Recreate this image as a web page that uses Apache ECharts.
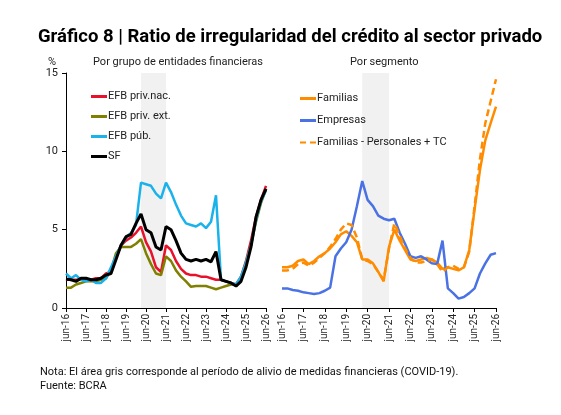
<!DOCTYPE html>
<html><head><meta charset="utf-8">
<script src="https://cdn.jsdelivr.net/npm/echarts@6/dist/echarts.min.js"></script>
<style>body{margin:0;background:#fff}#c{width:561px;height:415px}</style>
</head><body><div id="c"></div>
<script>
const months=['jun','sep','dic','mar'];
const categories=[];
for(let i=0;i<=40;i++){const m=months[i%4];const y=16+Math.floor((i+2)/4);categories.push(m+'-'+y);}
const efbPrivNac=[1.8,1.8,1.8,1.8,1.8,1.8,1.9,1.9,2.2,2.3,3.2,4.0,4.3,4.5,4.8,5.2,4.2,3.6,2.6,2.3,4.0,3.7,3.0,2.5,2.2,2.1,2.1,2.0,2.0,1.9,1.8,1.8,1.7,1.6,1.5,2.0,3.0,4.3,5.8,6.9,7.8];
const efbPrivExt=[1.3,1.3,1.5,1.6,1.7,1.7,1.7,1.8,1.9,2.4,3.5,3.9,3.9,3.9,4.1,4.4,3.5,2.8,2.2,2.1,3.3,3.0,2.4,2.0,1.7,1.35,1.4,1.4,1.4,1.3,1.2,1.3,1.4,1.5,1.5,1.9,2.9,4.0,5.5,6.7,7.6];
const efbPub=[2.2,1.9,2.1,1.8,1.7,1.8,1.6,1.6,1.9,2.6,3.3,4.0,4.5,4.8,5.3,8.0,7.9,7.8,7.3,7.0,8.0,7.4,6.6,5.9,5.4,5.3,5.2,5.4,5.1,5.5,7.2,1.8,1.7,1.6,1.5,2.0,2.9,4.0,5.6,6.8,7.5];
const sf=[1.85,1.8,1.7,1.9,1.9,1.8,1.8,1.9,2.1,2.2,3.1,4.0,4.55,4.7,5.4,6.0,5.0,4.8,3.9,3.7,5.2,5.0,4.3,3.5,3.1,3.0,3.1,3.0,3.1,2.95,3.6,1.8,1.7,1.6,1.4,1.7,2.6,3.9,5.8,6.9,7.6];
const familias=[2.6,2.6,2.7,3.0,3.1,2.8,3.0,3.3,3.5,3.8,4.2,4.7,4.9,4.6,4.2,3.1,3.1,2.85,2.3,1.7,3.9,5.0,4.3,3.7,3.1,3.0,3.1,3.2,3.1,2.9,2.5,2.6,2.5,2.4,2.6,3.7,6.3,8.8,10.7,11.8,12.85];
const empresas=[1.25,1.25,1.15,1.1,1.0,0.95,0.9,0.95,1.1,1.3,3.3,3.8,4.2,5.0,6.5,8.1,6.9,6.5,5.9,5.7,5.6,5.7,4.8,4.1,3.3,3.2,3.3,3.1,2.85,2.8,4.3,1.25,0.95,0.6,0.7,0.95,1.25,2.2,2.85,3.4,3.5];
const famPersTC=[2.4,2.4,2.5,2.8,2.9,2.7,2.9,3.2,3.5,3.9,4.4,5.0,5.4,5.3,4.5,3.1,3.0,2.8,2.3,1.8,3.8,5.4,4.6,3.8,3.2,2.9,2.9,3.0,3.1,2.8,2.3,2.6,2.7,2.5,2.6,3.6,6.5,9.5,11.8,13.2,14.6];
const yTicks=[0,5,10,15];

const ff='Roboto, "Noto Sans", sans-serif';
const band={silent:true,itemStyle:{color:'rgba(200,200,200,0.25)'},data:[[{xAxis:'mar-20'},{xAxis:'jun-21'}]]};
function xa(g){return {type:'category',gridIndex:g,data:categories,boundaryGap:false,
 axisLine:{lineStyle:{color:'#000'}},axisTick:{interval:3,length:4,lineStyle:{color:'#000'}},
 axisLabel:{interval:3,rotate:90,fontSize:10,color:'#222',fontFamily:ff,margin:6}};}
function ln(name,data,color,g,extra){return Object.assign({name,type:'line',data,xAxisIndex:g,yAxisIndex:g,
 showSymbol:false,symbol:'none',lineStyle:{color,width:2.5},itemStyle:{color}},extra||{});}
const chart=echarts.init(document.getElementById('c'));
chart.setOption({
 animation:false,
 title:[{text:'Gráfico 8 | Ratio de irregularidad del crédito al sector privado',left:33,top:23,
   textStyle:{fontSize:18.5,fontWeight:'bold',color:'#000',fontFamily:ff}},
  {text:'Por grupo de entidades financieras',left:88,top:52,textStyle:{fontSize:11,fontWeight:'normal',color:'#222',fontFamily:ff}},
  {text:'Por segmento',left:345,top:52,textStyle:{fontSize:11,fontWeight:'normal',color:'#222',fontFamily:ff}},
  {text:'%',left:43,top:52,textStyle:{fontSize:11,fontWeight:'normal',color:'#222',fontFamily:ff}},
  {text:'Nota: El área gris corresponde al período de alivio de medidas financieras (COVID-19).\nFuente: BCRA',left:35,top:360,
   textStyle:{fontSize:11,fontWeight:'normal',color:'#111',fontFamily:ff,lineHeight:14}}],
 grid:[{left:66,top:73,width:200,height:235},{left:282,top:73,width:214,height:235}],
 legend:[{orient:'vertical',left:86,top:86,itemGap:9,itemWidth:16,itemHeight:3,icon:'rect',
   textStyle:{fontSize:11,color:'#222',fontFamily:ff,padding:[0,0,0,-4]},
   data:['EFB priv.nac.','EFB priv. ext.','EFB púb.','SF']},
  {orient:'vertical',left:295,top:88,itemGap:11,itemWidth:16,itemHeight:3,
   textStyle:{fontSize:11,color:'#222',fontFamily:ff,padding:[0,0,0,-4]},
   data:[{name:'Familias',icon:'rect'},{name:'Empresas',icon:'rect'},{name:'Familias - Personales + TC',icon:'path://M0,0H6V2H0Z M10,0H16V2H10Z'}]}],
 xAxis:[xa(0),xa(1)],
 yAxis:[{type:'value',gridIndex:0,min:0,max:15,interval:5,splitLine:{show:false},
   axisLine:{show:true,lineStyle:{color:'#000'}},axisTick:{show:true,length:4,lineStyle:{color:'#000'}},
   axisLabel:{fontSize:11,color:'#222',fontFamily:ff,customValues:yTicks}},
  {type:'value',gridIndex:1,min:0,max:15,interval:5,show:false,splitLine:{show:false}}],
 series:[
  ln('EFB priv.nac.',efbPrivNac,'#e8102a',0,{markArea:band}),
  ln('EFB priv. ext.',efbPrivExt,'#7f7f00',0),
  ln('EFB púb.',efbPub,'#1ab2ea',0),
  ln('SF',sf,'#000000',0,{lineStyle:{color:'#000',width:3}}),
  ln('Familias',familias,'#ff8c00',1,{markArea:band}),
  ln('Empresas',empresas,'#4a72e4',1),
  ln('Familias - Personales + TC',famPersTC,'#ff8c00',1,{lineStyle:{color:'#ff8c00',width:2.5,type:[7,4]}})
 ]
});
</script></body></html>
